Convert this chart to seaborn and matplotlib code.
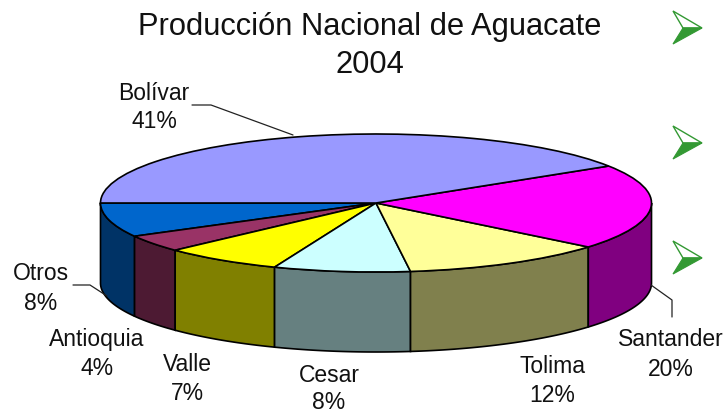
import numpy as np
import seaborn as sns
from matplotlib import pyplot as plt

regions = ['Otros', 'Antioquia', 'Valle', 'Cesar', 'Tolima', 'Santander', 'Bolívar']
shares = [8, 4, 7, 8, 12, 20, 41]
top_colors = ['#0066CC', '#993366', '#FFFF00', '#CCFFFF', '#FFFF99', '#FF00FF', '#9999FF']
title_lines = ['Producción Nacional de Aguacate', '2004']

sns.set_theme(style='white')
plt.rcParams['font.family'] = ['Liberation Sans', 'DejaVu Sans']

W, H = 727, 414
cx, cy = 376, 204
rx, ry = 275.5, 69
depth = 80 / ry

fig = plt.figure(figsize=(W / 100, H / 100), dpi=100, facecolor='white')
ax = fig.add_axes([0, 0, 1, 1])

palette = sns.color_palette(top_colors)
sides = [tuple(c * 0.5 for c in col) for col in palette]

# the pie is a plain circle, the axes limits squash it into an ellipse
ax.pie(shares, colors=palette, startangle=180, counterclock=True,
       wedgeprops=dict(edgecolor='black', linewidth=1.2, zorder=3))
ax.set_aspect('auto')
ax.set_xlim(-cx / rx, (W - cx) / rx)
ax.set_ylim(-(H - cy) / ry, cy / ry)

# side walls, only the front half of the rim can be seen
edges = 180 + np.cumsum([0] + shares) * 3.6
for i, col in enumerate(sides):
    a0, a1 = edges[i], min(edges[i + 1], 360)
    if a0 >= 360:
        continue
    t = np.radians(np.linspace(a0, a1, 60))
    xs = np.r_[np.cos(t), np.cos(t)[::-1]]
    ys = np.r_[np.sin(t), np.sin(t)[::-1] - depth]
    ax.fill(xs, ys, facecolor=col, edgecolor='black', linewidth=1.2, zorder=2)

# overlay in pixel coordinates for the text and leader lines
ov = fig.add_axes([0, 0, 1, 1], facecolor='none')
ov.set_xlim(0, W)
ov.set_ylim(H, 0)
ov.axis('off')

ov.text(370, 27, title_lines[0], fontsize=22.2, ha='center', va='center', color='#111111')
ov.text(370, 65, title_lines[1], fontsize=22.2, ha='center', va='center', color='#111111')

label_pos = {
    'Otros': (41, 274, 304),
    'Antioquia': (97, 340, 369),
    'Valle': (187, 365, 394),
    'Cesar': (329, 376, 403),
    'Tolima': (552, 367, 396),
    'Santander': (671, 340, 370),
    'Bolívar': (154, 93, 122),
}
for name, share in zip(regions, shares):
    x, y1, y2 = label_pos[name]
    ov.text(x, y1, name, fontsize=16.5, ha='center', va='center', color='#111111')
    ov.text(x, y2, f'{share}%', fontsize=16.5, ha='center', va='center', color='#111111')

ov.plot([192, 211, 293], [106, 106, 136], color='#222222', lw=0.9)
ov.plot([73, 90, 107], [286, 286, 297], color='#222222', lw=0.9)
ov.plot([651, 672, 672], [286, 301, 318], color='#222222', lw=0.9)

# bullet arrowheads: white upper half with green outline, solid lower half
for y in [29, 144, 259]:
    ov.fill([673, 702, 683], [y - 17, y, y], facecolor='white', edgecolor='#339933', lw=1.0)
    ov.fill([702, 683, 673], [y, y, y + 16], facecolor='#339933', edgecolor='#339933', lw=0.8)

fig.savefig('out.png', dpi=100)
